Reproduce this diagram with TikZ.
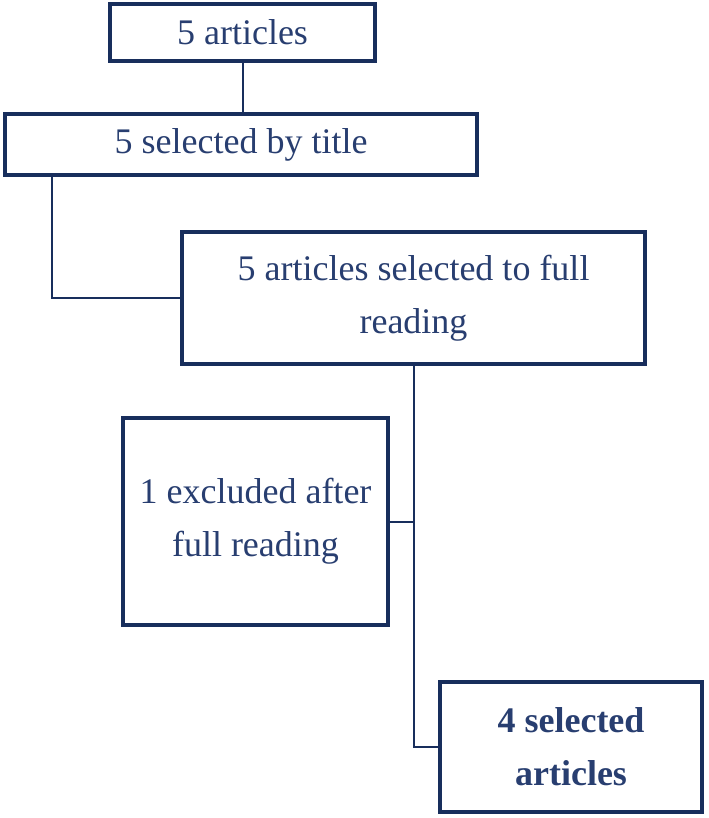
\documentclass[tikz,border=0pt]{standalone}
\usepackage{fontspec}
\setmainfont{Liberation Serif}
\usepackage{tikz}
\usetikzlibrary{calc}

\begin{document}
\begin{tikzpicture}[x=0.5pt, y=-0.5pt,
    box/.style={draw=navy, line width=2pt, text=navytext, align=center,
      inner sep=0pt, font=\fontsize{18}{26.5}\selectfont},
    link/.style={draw=navy, line width=1pt}]
    \definecolor{navy}{RGB}{24,46,92}\definecolor{navytext}{RGB}{40,62,112}
    \useasboundingbox (0,0) rectangle (708,818);
    \node[box, minimum width=132.5pt, minimum height=28.5pt] (articles) at (242.5,32.5) {5 articles};
    \node[box, minimum width=236pt, minimum height=30.5pt] (bytitle) at (241,144.5) {5 selected by title};
    \node[box, minimum width=231.5pt, minimum height=66pt] (reading) at (413.5,298) {5 articles selected to full\\reading};
    \node[box, minimum width=132.5pt, minimum height=103.5pt] (excluded) at (255.5,521.5) {1 excluded after\\full reading};
    \node[box, minimum width=131pt, minimum height=65pt, font=\fontsize{18}{26.5}\selectfont\bfseries] (selected) at (571,747) {4 selected\\articles};
    \coordinate (bend) at (52,298);
    \draw[link] (articles.south) -- (articles.south |- bytitle.north);
    \draw[link] (bytitle.south -| bend) -- (bend) -- (reading.west);
    \draw[link] (reading.south) |- (selected.west);
    \draw[link] (excluded.east) -- (excluded.east -| reading.south);
  \end{tikzpicture}
\end{document}
